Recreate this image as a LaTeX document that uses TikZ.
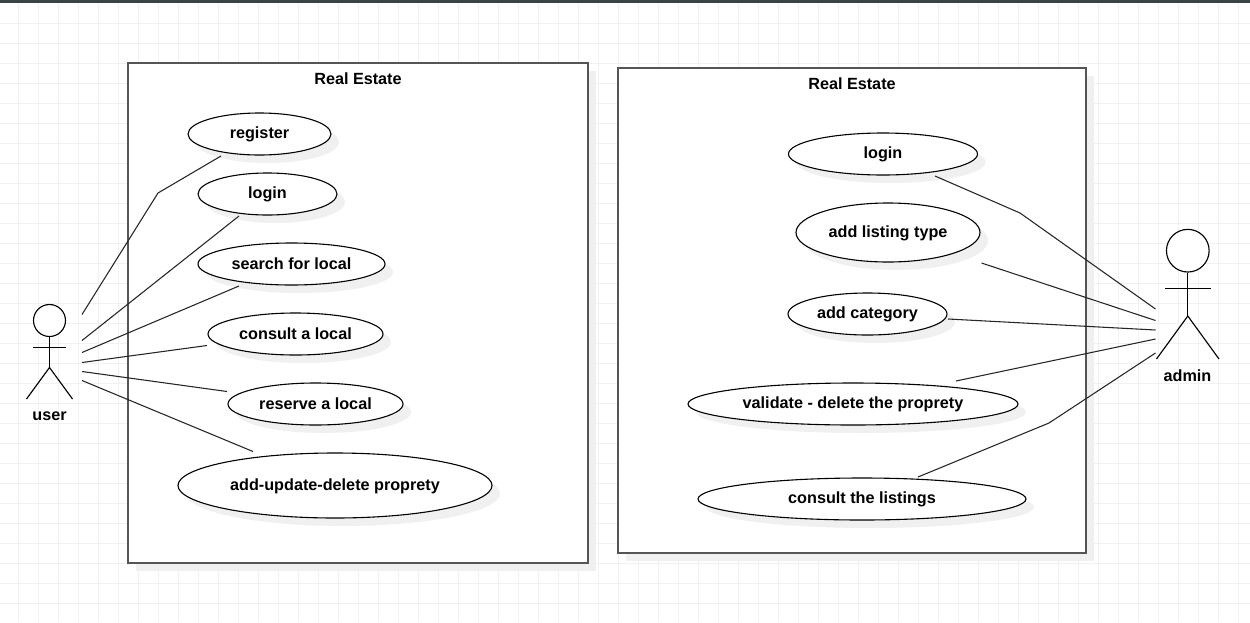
\documentclass[tikz,border=0pt]{standalone}
\usepackage{fontspec}
\setmainfont{Liberation Sans}
\usetikzlibrary{shapes.geometric}
\definecolor{gridc}{HTML}{F1F1F1}
\definecolor{shadowc}{HTML}{F0F0F0}
\definecolor{barc}{HTML}{3C4347}
\definecolor{boxc}{HTML}{555555}
\tikzset{
  usecase/.style={ellipse,draw=black,fill=white,line width=1.1pt*0.75,inner sep=0pt,text=black},
  ushadow/.style={ellipse,fill=shadowc,draw=none,inner sep=0pt},
  sysbox/.style={rectangle,draw=boxc,fill=white,line width=1.5pt,inner sep=0pt},
  bshadow/.style={rectangle,fill=shadowc,draw=none,inner sep=0pt},
  titletext/.style={font=\bfseries\fontsize{12.15}{14}\selectfont,text=black,inner sep=0pt},
  assoc/.style={draw=black!85,line width=0.8pt},
  stick/.style={draw=black,line width=0.85pt},
}
\newcommand{\ucase}[7]{% name, x1, x2, y1, y2, text
  \node[ushadow,minimum width={(#3-#2)*0.75pt},minimum height={(#5-#4)*0.75pt}] at ({(#2+#3)/2+8},{(#4+#5)/2+8}) {};
  \node[usecase,minimum width={(#3-#2)*0.75pt},minimum height={(#5-#4)*0.75pt}] (#1) at ({(#2+#3)/2},{(#4+#5)/2}) {};
  \node[titletext] (#1t) at ({(#2+#3)/2},{(#4+#5)/2+#7}) {#6};
}
\begin{document}
\begin{tikzpicture}[x=0.75pt,y=-0.75pt]
\useasboundingbox (0,0) rectangle (1250,622);
\fill[white] (0,0) rectangle (1250,622);
\foreach \gx in {18.5,38.5,...,1250}{\draw[gridc,line width=0.75pt] (\gx,3) -- (\gx,622);}
\foreach \gy in {23.5,43.5,...,622}{\draw[gridc,line width=0.75pt] (0,\gy) -- (1250,\gy);}
\fill[barc] (0,0) rectangle (1250,3);
% boxes
\node[bshadow,minimum width=345pt,minimum height=375pt] at (366,321) {};
\node[sysbox,minimum width=345pt,minimum height=375pt] (boxa) at (358,313) {};
\node[bshadow,minimum width=351pt,minimum height=363.75pt] at (860,318.5) {};
\node[sysbox,minimum width=351pt,minimum height=363.75pt] (boxb) at (852,310.5) {};
\node[titletext] (ta) at (358,79) {Real Estate};
\node[titletext] (tb) at (852,84) {Real Estate};
% use cases left
\ucase{reg}{188}{331}{113}{155}{register}{0.5}
\ucase{log}{198}{337}{173}{215}{login}{0.5}
\ucase{sea}{198}{385}{243}{285}{search for local}{0}
\ucase{con}{208}{383}{313}{355}{consult a local}{0}
\ucase{res}{228}{403}{383}{425}{reserve a local}{0}
\ucase{add}{178}{492}{453}{518}{add-update-delete proprety}{0.5}
% use cases right
\ucase{rlog}{788.5}{977.5}{133}{175}{login}{0.5}
\ucase{rlist}{796}{980}{203}{262}{add listing type}{0.5}
\ucase{rcat}{788}{947}{293}{335}{add category}{0.5}
\ucase{rval}{688}{1018}{383}{425}{validate - delete the proprety}{0.5}
\ucase{rcons}{698}{1026}{478}{520}{consult the listings}{0.5}
% user actor
\node[circle,draw=black,fill=white,line width=0.85pt,inner sep=0pt,minimum size=24pt] (uhead) at (49.5,320.5) {};
\coordinate (uhip) at (49.5,367.5);
\coordinate (uarmL) at (33,347.5);
\coordinate (uarmR) at (66,347.5);
\coordinate (ulegL) at (26.5,399);
\coordinate (ulegR) at (72.5,399);
\draw[stick] (uhead.south) -- (uhip);
\draw[stick] (uarmL) -- (uarmR);
\draw[stick] (ulegL) -- (uhip) -- (ulegR);
\node[titletext] (ulabel) at (49.5,416) {user};
% admin actor
\node[circle,draw=black,fill=white,line width=0.85pt,inner sep=0pt,minimum size=32pt] (ahead) at (1187.8,250.7) {};
\coordinate (ahip) at (1187.8,316);
\coordinate (aarmL) at (1165,288.5);
\coordinate (aarmR) at (1210.5,288.5);
\coordinate (alegL) at (1156.5,359);
\coordinate (alegR) at (1219,359);
\draw[stick] (ahead.south) -- (ahip);
\draw[stick] (aarmL) -- (aarmR);
\draw[stick] (alegL) -- (ahip) -- (alegR);
\node[titletext] (alabel) at (1187.5,376) {admin};
% connector end points
\coordinate (u1) at (82,314.5);
\coordinate (u2) at (82,340.5);
\coordinate (u3) at (82,352.5);
\coordinate (u4) at (82,362.5);
\coordinate (u5) at (82,371.5);
\coordinate (u6) at (82,380.5);
\coordinate (e1) at (221,156);
\coordinate (e2) at (239,216);
\coordinate (e3) at (239,286);
\coordinate (e4) at (207,345.5);
\coordinate (e5) at (227,391.5);
\coordinate (e6) at (253,451.5);
\coordinate (a1) at (1155.5,309);
\coordinate (a2) at (1155.5,320.5);
\coordinate (a3) at (1155.5,330);
\coordinate (a4) at (1155.5,339);
\coordinate (a5) at (1155.5,353);
\coordinate (f1) at (935,176);
\coordinate (f2) at (981.5,263);
\coordinate (f3) at (948,319);
\coordinate (f4) at (956,381);
\coordinate (f5) at (918,477);
% connectors
\draw[assoc] (u1) -- (158,193) -- (e1);
\draw[assoc] (u2) -- (e2);
\draw[assoc] (u3) -- (e3);
\draw[assoc] (u4) -- (e4);
\draw[assoc] (u5) -- (e5);
\draw[assoc] (u6) -- (e6);
\draw[assoc] (f1) -- (1020,213) -- (a1);
\draw[assoc] (f2) -- (a2);
\draw[assoc] (f3) -- (a3);
\draw[assoc] (f4) -- (a4);
\draw[assoc] (f5) -- (1049,423) -- (a5);
\end{tikzpicture}
\end{document}
